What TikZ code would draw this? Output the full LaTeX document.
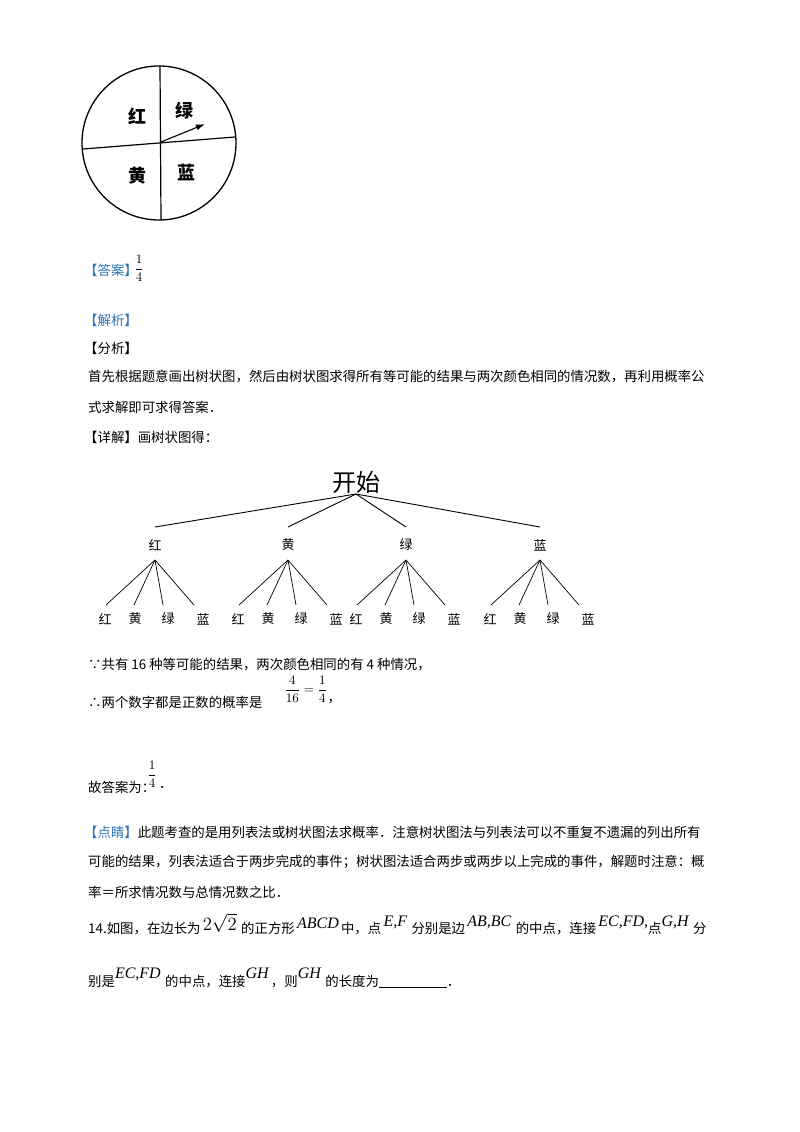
\documentclass[tikz,border=0pt]{standalone}
\usepackage{amsmath}
\usepackage{graphicx}
\usepackage{fontspec}
\newfontfamily\cjk{Noto Sans CJK SC}
\newfontfamily\tms{Liberation Serif}
\usetikzlibrary{arrows.meta}
\definecolor{hblue}{RGB}{46,117,182}
\newcommand{\mm}[1]{{\tms\itshape\fontsize{16}{18}\selectfont #1}}
\newcommand{\ff}[1]{\scalebox{1.3}{$#1$}}
\tikzset{
  txt/.style={anchor=west,inner sep=0pt,font=\cjk\fontsize{13.4}{15}\selectfont},
  lab/.style={inner sep=0pt,font=\cjk\bfseries\fontsize{18}{20}\selectfont},
  tl/.style={inner sep=0pt,font=\cjk\fontsize{13}{15}\selectfont},
  br/.style={line width=0.9pt},
  fr/.style={inner sep=0pt}
}
\begin{document}
\begin{tikzpicture}[x=1pt,y=-1pt]
\useasboundingbox[fill=white] (0,0) rectangle (800,1132);
% spinner
\node[circle,draw,line width=1.3pt,minimum size=154pt,inner sep=0pt] (c) at (159,143) {};
\coordinate (ct) at (160,66); \coordinate (cb) at (161,220);
\coordinate (cl) at (83,149); \coordinate (cr) at (235,137);
\draw[line width=1.2pt] (ct) -- (cb);
\draw[line width=1.2pt] (cl) -- (cr);
\coordinate (a0) at (161,142); \coordinate (a1) at (205,124);
\draw[line width=1.1pt,-{Latex[length=9pt,width=6pt]}] (a0) -- (a1);
\node[lab] (s1) at (137,116) {红};
\node[lab] (s2) at (184,111) {绿};
\node[lab] (s3) at (137,176) {黄};
\node[lab] (s4) at (186,172) {蓝};
% answer
\node[txt,text=hblue] (t1) at (84,270) {【答案】};
\node[fr] (f1) at (139,268) {\ff{\dfrac{1}{4}}};
\node[txt,text=hblue] (t2) at (84,320) {【解析】};
\node[txt] (t3) at (84,348) {【分析】};
\node[txt] (t4) at (88,377) {首先根据题意画出树状图，然后由树状图求得所有等可能的结果与两次颜色相同的情况数，再利用概率公};
\node[txt] (t5) at (88,407) {式求解即可求得答案．};
\node[txt] (t6) at (84,437) {【详解】画树状图得：};
% tree
\node[inner sep=0pt,font=\cjk\fontsize{24}{26}\selectfont] (root) at (356,482) {开始};
\coordinate (r0) at (356,494);
\foreach \n/\x/\t in {1/155/红,2/288/黄,3/406/绿,4/540/蓝}{
  \coordinate (e\n) at (\x,527);
  \draw[br] (r0) -- (e\n);
  \node[tl] (m\n) at (\x,545) {\t};
  \coordinate (p\n) at (\x,560);
  \foreach \k/\dx/\ex/\s in {1/-50/-49/红,2/-20/-21/黄,3/13/8/绿,4/48/39/蓝}{
    \coordinate (q\n\k) at ({\x+\ex},605);
    \draw[line width=0.7pt] (p\n) -- (q\n\k);
    \node[tl] (l\n\k) at ({\x+\dx},619) {\s};
  }
}
% text
\node[txt] (t7) at (88,665) {∵共有 16 种等可能的结果，两次颜色相同的有 4 种情况，};
\node[txt] (t8) at (88,702) {∴两个数字都是正数的概率是};
\node[fr,anchor=west] (f2) at (284,689) {\ff{\dfrac{4}{16}=\dfrac{1}{4}}};
\node[txt] (t8b) at (f2.east|-t8) {，};
\node[txt] (t9) at (88,787) {故答案为：};
\node[fr,anchor=west] (f3) at (147,774) {\ff{\dfrac{1}{4}}};
\node[txt] (t9b) at ([xshift=2pt]f3.east|-t9) {．};
\node[txt] (t10) at (84,832) {\textcolor{hblue}{【点睛】}此题考查的是用列表法或树状图法求概率．注意树状图法与列表法可以不重复不遗漏的列出所有};
\node[txt] (t11) at (88,862) {可能的结果，列表法适合于两步完成的事件；树状图法适合两步或两步以上完成的事件，解题时注意：概};
\node[txt] (t12) at (88,892) {率＝所求情况数与总情况数之比．};
\node[txt] (t13) at (88,924) {14.如图，在边长为\,\raisebox{3pt}{\ff{2\sqrt{2}}}\,\,的正方形\,\raisebox{5pt}{\mm{ABCD}}\,中，点\,\raisebox{7pt}{\mm{E,F}}\,\,分别是边\,\raisebox{7pt}{\mm{AB,BC}}\,\,的中点，连接\,\raisebox{7pt}{\mm{EC,FD,}}点\raisebox{7pt}{\mm{G,H}}\,\,分};
\node[txt] (t14) at (88,978) {别是\raisebox{8pt}{\mm{EC,FD}}\,\,的中点，连接\raisebox{8pt}{\mm{GH}}\,，则\raisebox{8pt}{\mm{GH}}\,\,的长度为\rule[-1pt]{68pt}{0.5pt}．};
\end{tikzpicture}
\end{document}
